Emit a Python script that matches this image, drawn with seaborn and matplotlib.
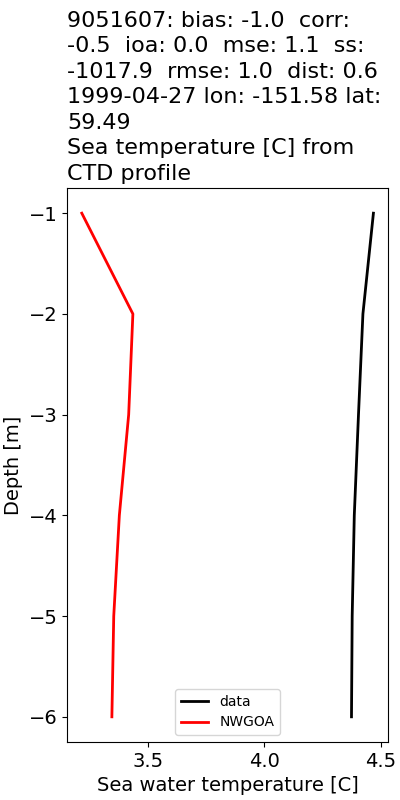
import matplotlib
matplotlib.use("Agg")
import matplotlib.pyplot as plt
import seaborn as sns
import pandas as pd

depth = [-1, -2, -3, -4, -5, -6]
data_temp = [4.468, 4.423, 4.404, 4.386, 4.377, 4.374]
nwgoa_temp = [3.218, 3.437, 3.419, 3.379, 3.355, 3.347]

title = ("9051607: bias: -1.0  corr:\n-0.5  ioa: 0.0  mse: 1.1  ss:\n"
         "-1017.9  rmse: 1.0  dist: 0.6\n1999-04-27 lon: -151.58 lat:\n59.49\n"
         "Sea temperature [C] from\nCTD profile")

fig = plt.figure(figsize=(4, 8), dpi=100)
ax = fig.add_axes([0.168, 0.0725, 0.802, 0.6925])

sns.lineplot(x=data_temp, y=depth, sort=False, estimator=None, color="black",
             linewidth=2, label="data", ax=ax)
sns.lineplot(x=nwgoa_temp, y=depth, sort=False, estimator=None, color="red",
             linewidth=2, label="NWGOA", ax=ax)

ax.set_title(title, loc="left", fontsize=16, pad=6, linespacing=1.34)
ax.set_xlabel("Sea water temperature [C]", fontsize=14)
ax.set_ylabel("Depth [m]", fontsize=14)
ax.tick_params(labelsize=14)
ax.legend(loc="lower center", fontsize=10)

fig.savefig("out.png", dpi=100)
